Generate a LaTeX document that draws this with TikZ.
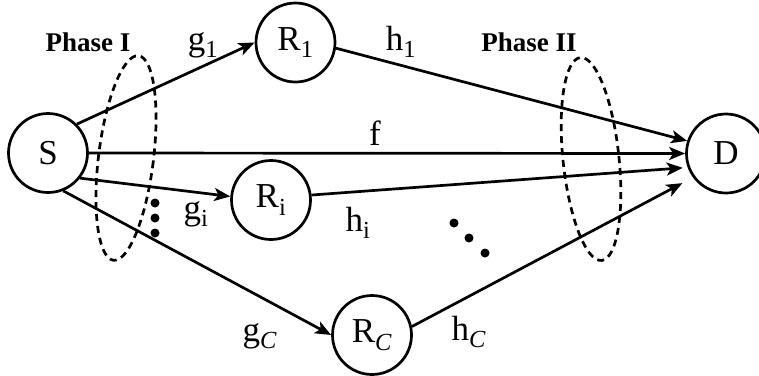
\documentclass[tikz,border=0pt]{standalone}
\usepackage{fontspec}
\setmainfont{Liberation Serif}
\usetikzlibrary{arrows.meta}
\begin{document}
\begin{tikzpicture}[x=1pt,y=-1pt,
  station/.style={circle,draw,line width=2.7pt,minimum size=79pt,inner sep=0pt,font=\fontsize{35}{40}\selectfont},
  link/.style={line width=2.7pt,-{Stealth[length=16pt,width=13pt,inset=4pt]}},
  lbl/.style={font=\fontsize{35}{40}\selectfont,inner sep=0pt},
  phaselbl/.style={font=\fontsize{27}{32}\selectfont\bfseries,inner sep=0pt},
  region/.style={dash pattern=on 7pt off 5pt,line width=2.7pt},
  dot/.style={circle,fill,inner sep=0pt,minimum size=9pt}]
\clip (0,0) rectangle (759,375);

% nodes
\node[station] (S)  at (48,153)  {S};
\node[station] (R1) at (295.5,42.5) {R\textsubscript{1}};
\node[station] (Ri) at (271,200) {R\textsubscript{i}};
\node[station] (RC) at (372,335) {R\textsubscript{\textit{C}}};
\node[station] (D)  at (726,153.5) {D};

% first hop
\draw[link] (S.45)  -- (R1.west);
\draw[link] (S.east) -- (D.west);
\draw[link] (S.-38) -- (Ri.175);
\draw[link] (S.-68) -- (RC.west);

% second hop
\draw[link] (R1.-8) -- (D.162);
\draw[link,shorten >=5pt] (Ri.7)  -- (D.200);
\draw[link,shorten >=12pt] (RC.12) -- (D.216);

% phase regions
\draw[region] (126,158) ellipse [x radius=27.5, y radius=103, rotate=-7];
\draw[region] (591,159) ellipse [x radius=28, y radius=102, rotate=6];

% labels
\node[phaselbl] (p1) at (88,42)  {Phase I};
\node[phaselbl] (p2) at (529,42) {Phase II};
\node[lbl] (g1) at (203,45)  {g\textsubscript{1}};
\node[lbl] (h1) at (401,42)  {h\textsubscript{1}};
\node[lbl] (f)  at (375,133) {f};
\node[lbl] (gi) at (196,214) {g\textsubscript{i}};
\node[lbl] (hi) at (358,223) {h\textsubscript{i}};
\node[lbl] (gC) at (260,336) {g\textsubscript{\textit{C}}};
\node[lbl] (hC) at (469,332) {h\textsubscript{\textit{C}}};

% ellipsis dots
\node[dot] (v1) at (155,203) {};
\node[dot] (v2) at (155,218) {};
\node[dot] (v3) at (155,233) {};
\node[dot] (d1) at (454,223) {};
\node[dot] (d2) at (469,238) {};
\node[dot] (d3) at (485,253) {};
\end{tikzpicture}
\end{document}
